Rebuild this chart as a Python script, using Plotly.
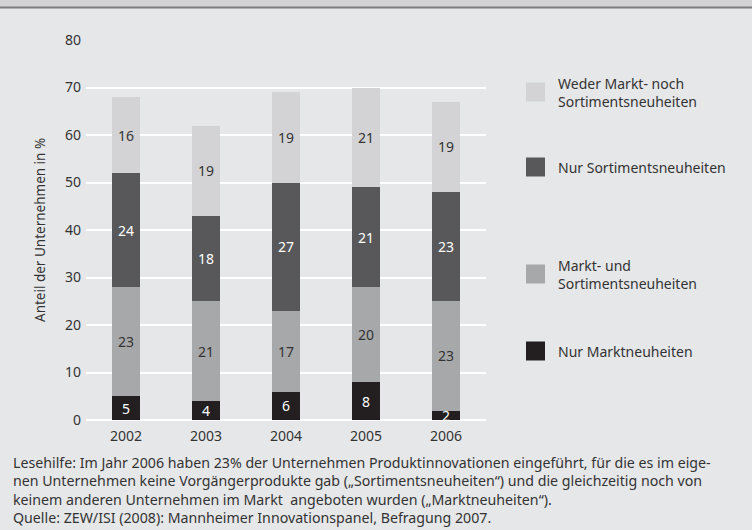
import plotly.graph_objects as go

years = ["2002", "2003", "2004", "2005", "2006"]
nur_markt = [5, 4, 6, 8, 2]
markt_und_sortiment = [23, 21, 17, 20, 23]
nur_sortiment = [24, 18, 27, 21, 23]
weder = [16, 19, 19, 21, 19]

series = [
    ("Nur Marktneuheiten", nur_markt, "#231f20", "white"),
    ("Markt- und<br>Sortimentsneuheiten", markt_und_sortiment, "#a7a8aa", "#333333"),
    ("Nur Sortimentsneuheiten", nur_sortiment, "#58585a", "white"),
    ("Weder Markt- noch<br>Sortimentsneuheiten", weder, "#d3d3d5", "#333333"),
]

caption = [
    "Lesehilfe: Im Jahr 2006 haben 23% der Unternehmen Produktinnovationen eingeführt, für die es im eige-",
    "nen Unternehmen keine Vorgängerprodukte gab („Sortimentsneuheiten“) und die gleichzeitig noch von",
    "keinem anderen Unternehmen im Markt  angeboten wurden („Marktneuheiten“).",
    "Quelle: ZEW/ISI (2008): Mannheimer Innovationspanel, Befragung 2007.",
]

FONT = "Noto Sans"
W, H = 752, 530
L, R, T, B = 86, 486, 40, 420


def px(x):
    return (x - L) / (R - L)


def py(y):
    return (B - y) / (B - T)


fig = go.Figure()
for name, vals, color, tcolor in series:
    fig.add_trace(go.Bar(
        x=years, y=vals, name=name.replace("<br>", " "),
        marker=dict(color=color, line=dict(width=0)),
        text=[str(v) for v in vals], textposition="inside", textangle=0,
        insidetextanchor="middle", constraintext="none", cliponaxis=True,
        textfont=dict(family=FONT, size=14, color=tcolor),
        showlegend=False,
    ))

bg = "#e6e7e9"
fig.update_layout(
    width=W, height=H, barmode="stack", bargap=0.66,
    paper_bgcolor=bg, plot_bgcolor=bg,
    margin=dict(l=L, r=W - R, t=T, b=H - B, pad=0),
    font=dict(family=FONT, size=14, color="#333333"),
    xaxis=dict(showgrid=False, showline=False, ticks="", tickfont=dict(size=14),
               ticklabelstandoff=6),
    yaxis=dict(range=[0, 80], dtick=10, showgrid=True, gridcolor="white", gridwidth=1.5,
               zeroline=True, zerolinecolor="white", zerolinewidth=1.5,
               showline=False, ticks="", tickfont=dict(size=14), ticklabelstandoff=4),
)

shapes = [
    dict(type="rect", xref="paper", yref="paper", x0=px(0), x1=px(W), y0=py(7), y1=py(0),
         fillcolor="#d3d3d5", line=dict(width=0), layer="below"),
    dict(type="line", xref="paper", yref="paper", x0=px(0), x1=px(W), y0=py(7.5), y1=py(7.5),
         line=dict(color="#7d7d7f", width=2)),
]
annotations = []
legend_centers = [92, 167, 274, 351]
for (name, vals, color, tcolor), cy in zip(reversed(series), legend_centers):
    shapes.append(dict(type="rect", xref="paper", yref="paper",
                       x0=px(526), x1=px(545), y0=py(cy + 9.5), y1=py(cy - 9.5),
                       fillcolor=color, line=dict(width=0)))
    annotations.append(dict(xref="paper", yref="paper", x=px(556), y=py(cy),
                            xanchor="left", yanchor="middle", align="left",
                            text=name, showarrow=False,
                            font=dict(family=FONT, size=14, color="#333333")))

annotations.append(dict(xref="paper", yref="paper", x=px(40), y=py(230),
                        text="Anteil der Unternehmen in %", textangle=-90,
                        showarrow=False, xanchor="center", yanchor="middle",
                        font=dict(family=FONT, size=13.5, color="#333333")))
annotations.append(dict(xref="paper", yref="paper", x=px(11), y=py(490),
                        xanchor="left", yanchor="middle", align="left",
                        text="<br>".join(caption), showarrow=False,
                        font=dict(family=FONT, size=14.2, color="#333333")))

fig.update_layout(shapes=shapes, annotations=annotations)
fig.write_html("out.html", config={"displayModeBar": False},
               post_script="document.body.style.margin='0';document.body.style.overflow='hidden';")
